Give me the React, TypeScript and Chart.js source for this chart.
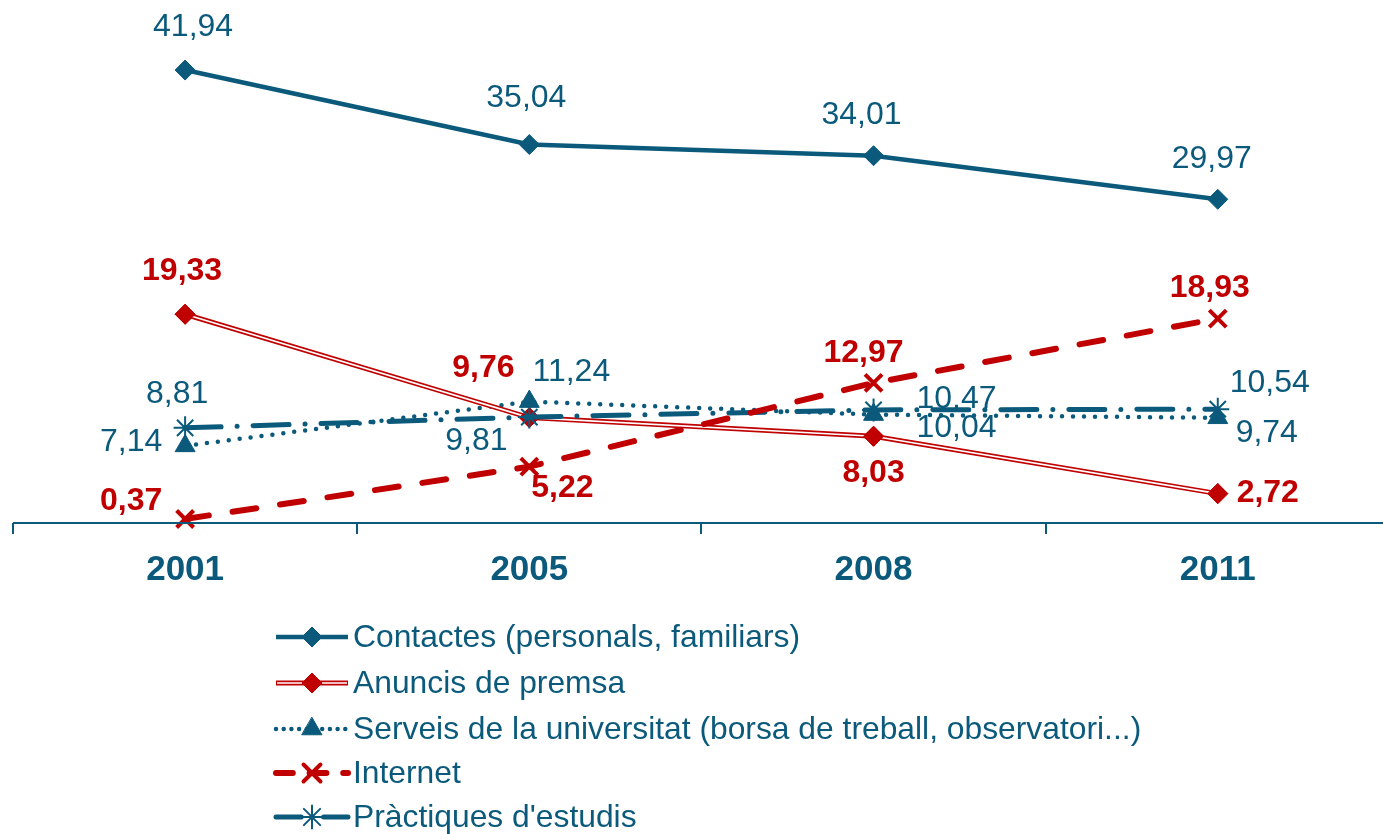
import React, { useEffect, useRef } from "react";
import { Chart, registerables } from "chart.js";
import { drawPoint } from "chart.js/helpers";

Chart.register(...registerables);

// ---- data ----
const YEARS = ["2001", "2005", "2008", "2011"];
const CONTACTES = [41.94, 35.04, 34.01, 29.97];
const ANUNCIS = [19.33, 9.76, 8.03, 2.72];
const SERVEIS = [7.14, 11.24, 10.04, 9.74];
const INTERNET = [0.37, 5.22, 12.97, 18.93];
const PRACTIQUES = [8.81, 9.81, 10.47, 10.54];
const SERIES_NAMES = [
  "Contactes (personals, familiars)",
  "Anuncis de premsa",
  "Serveis de la universitat (borsa de treball, observatori...)",
  "Internet",
  "Pràctiques d'estudis",
];

// ---- styles ----
const BLUE = "#0B5A7C";
const RED = "#C00000";
const FONT = '"Liberation Sans", Arial, sans-serif';

// label offsets (dx, dy) relative to each point, per series
const LABEL_OFFSETS: number[][][] = [
  [[8, -43], [-3, -46], [-12, -41], [-6, -40]],
  [[-3, -43], [-46, -49], [0, 37], [50, 0]],
  [[-54, -4], [42, -29], [83, 14], [49, 15]],
  [[-54, -18], [33, 22], [-10, -30], [-8, -30]],
  [[-8, -34], [-53, 24], [83, -11], [52, -26]],
];
const LABEL_BOLD = [false, true, false, true, false];
const LABEL_COLOR = [BLUE, RED, BLUE, RED, BLUE];
const LEGEND_ROWS = [637, 683, 729, 773, 817];

const toPts = (arr: number[]) => arr.map((v, i) => ({ x: i, y: v }));
const fmt = (v: number) => v.toFixed(2).replace(".", ",");

export default function App() {
  const ref = useRef<HTMLCanvasElement | null>(null);

  useEffect(() => {
    if (!ref.current) return;
    const datasets: any[] = [
      {
        label: SERIES_NAMES[0],
        data: toPts(CONTACTES),
        borderColor: BLUE,
        backgroundColor: BLUE,
        borderWidth: 4.5,
        pointStyle: "rectRot",
        pointRadius: 10,
        pointBorderWidth: 1,
        order: 1,
      },
      {
        label: SERIES_NAMES[1],
        data: toPts(ANUNCIS),
        borderColor: RED,
        backgroundColor: RED,
        borderWidth: 5,
        pointStyle: "rectRot",
        pointRadius: 10,
        pointBorderWidth: 1,
        order: 4,
        doubleLine: true,
      },
      {
        label: SERIES_NAMES[2],
        data: toPts(SERVEIS),
        borderColor: BLUE,
        backgroundColor: BLUE,
        borderWidth: 4.5,
        borderDash: [0, 11],
        borderCapStyle: "round",
        pointStyle: "triangle",
        pointRadius: 11.5,
        pointBorderWidth: 1,
        order: 5,
      },
      {
        label: SERIES_NAMES[3],
        data: toPts(INTERNET),
        borderColor: RED,
        backgroundColor: RED,
        borderWidth: 6,
        borderDash: [24, 24],
        borderCapStyle: "round",
        pointStyle: "crossRot",
        pointRadius: 12,
        pointBorderWidth: 4,
        order: 2,
      },
      {
        label: SERIES_NAMES[4],
        data: toPts(PRACTIQUES),
        borderColor: BLUE,
        backgroundColor: BLUE,
        borderWidth: 5,
        borderDash: [36, 16, 0, 16],
        borderCapStyle: "round",
        pointStyle: "star",
        pointRadius: 11.5,
        pointBorderWidth: 2,
        order: 3,
      },
    ];

    const doubleLinePlugin = {
      id: "doubleLine",
      afterDatasetDraw(chart: any, args: any) {
        const ds = chart.data.datasets[args.index];
        if (!ds.doubleLine) return;
        const meta = chart.getDatasetMeta(args.index);
        const ctx = chart.ctx;
        ctx.save();
        ctx.strokeStyle = "#ffffff";
        ctx.lineWidth = 1.6;
        ctx.beginPath();
        meta.data.forEach((p: any, i: number) => {
          if (i === 0) ctx.moveTo(p.x, p.y);
          else ctx.lineTo(p.x, p.y);
        });
        ctx.stroke();
        ctx.restore();
        meta.data.forEach((p: any) => p.draw(ctx, chart.chartArea));
      },
    };

    const axisPlugin = {
      id: "customAxis",
      afterDraw(chart: any) {
        const ctx = chart.ctx;
        const xs = chart.scales.x;
        const ys = chart.scales.y;
        const y0 = ys.getPixelForValue(0);
        ctx.save();
        ctx.strokeStyle = BLUE;
        ctx.lineWidth = 2;
        ctx.beginPath();
        ctx.moveTo(xs.getPixelForValue(-0.5), y0);
        ctx.lineTo(chart.width, y0);
        for (let i = 0; i < YEARS.length; i++) {
          const tx = Math.round(xs.getPixelForValue(i - 0.5));
          ctx.moveTo(tx, y0);
          ctx.lineTo(tx, y0 + 11);
        }
        ctx.stroke();
        ctx.fillStyle = BLUE;
        ctx.font = `bold 35px ${FONT}`;
        ctx.textAlign = "center";
        ctx.textBaseline = "middle";
        YEARS.forEach((yr, i) => {
          ctx.fillText(yr, xs.getPixelForValue(i), y0 + 47);
        });
        ctx.restore();
      },
    };

    const labelPlugin = {
      id: "valueLabels",
      afterDatasetsDraw(chart: any) {
        const ctx = chart.ctx;
        ctx.save();
        ctx.textAlign = "center";
        ctx.textBaseline = "middle";
        chart.data.datasets.forEach((ds: any, di: number) => {
          const meta = chart.getDatasetMeta(di);
          ctx.font = `${LABEL_BOLD[di] ? "bold " : ""}32px ${FONT}`;
          ctx.fillStyle = LABEL_COLOR[di];
          ds.data.forEach((d: any, i: number) => {
            const p = meta.data[i];
            const [dx, dy] = LABEL_OFFSETS[di][i];
            ctx.fillText(fmt(d.y), p.x + dx, p.y + dy);
          });
        });
        ctx.restore();
      },
    };

    const legendPlugin = {
      id: "customLegend",
      afterDraw(chart: any) {
        const ctx = chart.ctx;
        const x0 = 276;
        const x1 = 348;
        const mx = 312;
        chart.data.datasets.forEach((ds: any, i: number) => {
          const y = LEGEND_ROWS[i];
          ctx.save();
          ctx.strokeStyle = ds.borderColor;
          ctx.lineWidth = ds.borderWidth;
          ctx.setLineDash(ds.borderDash ? ds.borderDash.map((v: number) => v * 0.7) : []);
          ctx.lineCap = ds.borderCapStyle || "butt";
          ctx.beginPath();
          ctx.moveTo(x0, y);
          ctx.lineTo(x1, y);
          ctx.stroke();
          if (ds.doubleLine) {
            ctx.strokeStyle = "#ffffff";
            ctx.lineWidth = 1.6;
            ctx.beginPath();
            ctx.moveTo(x0 + 1, y);
            ctx.lineTo(x1 - 1, y);
            ctx.stroke();
          }
          ctx.setLineDash([]);
          ctx.fillStyle = ds.backgroundColor;
          ctx.strokeStyle = ds.borderColor;
          ctx.lineWidth = ds.pointBorderWidth;
          drawPoint(ctx, { pointStyle: ds.pointStyle, radius: ds.pointRadius, rotation: 0, borderWidth: ds.pointBorderWidth }, mx, y);
          ctx.fillStyle = BLUE;
          ctx.font = `31.8px ${FONT}`;
          ctx.textAlign = "left";
          ctx.textBaseline = "middle";
          ctx.fillText(ds.label, 353, y + 1);
          ctx.restore();
        });
      },
    };

    const chart = new Chart(ref.current, {
      type: "line",
      data: { datasets },
      options: {
        animation: false,
        responsive: false,
        maintainAspectRatio: false,
        layout: { autoPadding: false, padding: { left: 13, right: 0, top: 37, bottom: 311 } },
        datasets: { line: { clip: false as any } },
        scales: {
          x: { type: "linear", min: -0.5, max: 3.48, display: false },
          y: { type: "linear", min: 0, max: 45, display: false },
        },
        plugins: { legend: { display: false }, tooltip: { enabled: false } },
      },
      plugins: [doubleLinePlugin, axisPlugin, labelPlugin, legendPlugin],
    });
    return () => chart.destroy();
  }, []);

  return (
    <div style={{ position: "absolute", left: 0, top: 0, width: 1383, height: 834, background: "#fff" }}>
      <canvas ref={ref} width={1383} height={834} style={{ display: "block" }} />
    </div>
  );
}
